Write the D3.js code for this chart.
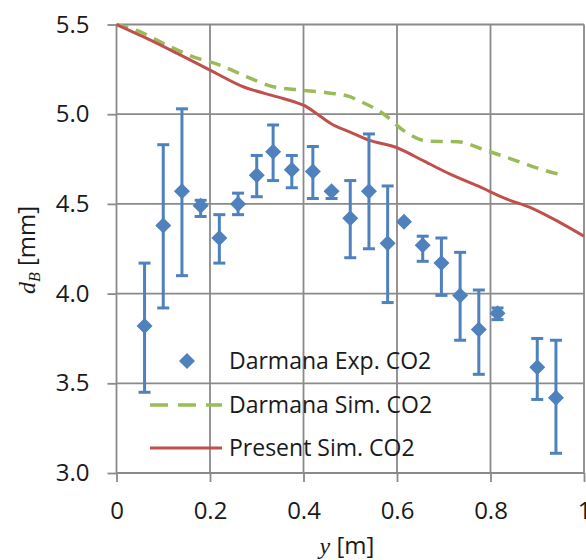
<!DOCTYPE html>
<html>
<head>
<meta charset="utf-8">
<script src="https://cdn.jsdelivr.net/npm/d3@7"></script>
<style>
  body { margin: 0; background: #fff; }
  svg { display: block; font-family: "Open Sans", sans-serif; }
  .grid line { stroke: #8a8a8a; stroke-width: 1.8; }
  .axis .domain { display: none; }
  .axis line { stroke: #8a8a8a; stroke-width: 1.8; }
  .axis text { font-size: 24px; fill: #1a1a1a; font-family: "Open Sans", sans-serif; }
  .legend text { font-size: 23px; fill: #1a1a1a; }
</style>
</head>
<body>
<svg id="chart" width="586" height="560"></svg>
<script>
// x ticks / y ticks
var xTicks = [0, 0.2, 0.4, 0.6, 0.8, 1];
var yTicks = [3.0, 3.5, 4.0, 4.5, 5.0, 5.5];

// Darmana experimental data (diamonds with error bars)
var expY = [0.06, 0.10, 0.14, 0.18, 0.22, 0.26, 0.30, 0.335, 0.375, 0.42, 0.46,
            0.50, 0.54, 0.58, 0.615, 0.655, 0.695, 0.735, 0.775, 0.815, 0.90, 0.94];
var expD = [3.82, 4.38, 4.57, 4.49, 4.31, 4.50, 4.66, 4.79, 4.69, 4.68, 4.57,
            4.42, 4.57, 4.28, 4.40, 4.27, 4.17, 3.99, 3.80, 3.89, 3.59, 3.42];
var expLo = [3.45, 3.92, 4.10, 4.43, 4.17, 4.44, 4.54, 4.63, 4.59, 4.53, 4.53,
             4.20, 4.25, 3.95, 4.40, 4.18, 3.99, 3.74, 3.55, 3.855, 3.41, 3.11];
var expHi = [4.17, 4.83, 5.03, 4.52, 4.44, 4.56, 4.77, 4.94, 4.77, 4.82, 4.57,
             4.63, 4.89, 4.60, 4.40, 4.32, 4.31, 4.23, 4.02, 3.92, 3.75, 3.74];

// Darmana simulation (dashed green)
var darmSimY = [0, 0.05, 0.107, 0.164, 0.221, 0.278, 0.335, 0.392, 0.449, 0.499,
                0.518, 0.572, 0.615, 0.665, 0.73, 0.788, 0.845, 0.903, 0.95];
var darmSimD = [5.5, 5.46, 5.386, 5.32, 5.274, 5.21, 5.153, 5.135, 5.12, 5.098,
                5.076, 5.0, 4.907, 4.85, 4.847, 4.80, 4.75, 4.697, 4.663];

// Present simulation (solid red)
var presSimY = [0, 0.057, 0.129, 0.2, 0.271, 0.342, 0.385, 0.40, 0.43, 0.46,
                0.50, 0.54, 0.60, 0.658, 0.716, 0.773, 0.831, 0.889, 0.946, 1.0];
var presSimD = [5.5, 5.432, 5.34, 5.246, 5.153, 5.098, 5.065, 5.05, 5.0, 4.945,
                4.90, 4.855, 4.813, 4.738, 4.663, 4.60, 4.531, 4.475, 4.40, 4.32];

var legendLabels = ['Darmana Exp. CO2', 'Darmana Sim. CO2', 'Present Sim. CO2'];

(function() {
  var blue = '#4f81bd', red = '#c0504d', green = '#9bbb59';

  var svg = d3.select('#chart');
  var plotL = 116.5, plotR = 584, plotT = 24.5, plotB = 473;

  var x = d3.scaleLinear().domain([0, 1]).range([plotL, plotR]);
  var y = d3.scaleLinear().domain([3, 5.5]).range([plotB, plotT]);

  // grid
  var grid = svg.append('g').attr('class', 'grid');
  grid.selectAll('line.h').data(yTicks).enter().append('line')
    .attr('x1', plotL).attr('x2', plotR)
    .attr('y1', function(d) { return y(d); }).attr('y2', function(d) { return y(d); });
  grid.selectAll('line.v').data(xTicks).enter().append('line')
    .attr('y1', plotT).attr('y2', plotB)
    .attr('x1', function(d) { return x(d); }).attr('x2', function(d) { return x(d); });

  // axes
  svg.append('g').attr('class', 'axis')
    .attr('transform', 'translate(' + plotL + ',0)')
    .call(d3.axisLeft(y).tickValues(yTicks).tickFormat(d3.format('.1f')).tickSize(9).tickPadding(18));

  svg.append('g').attr('class', 'axis')
    .attr('transform', 'translate(0,' + plotB + ')')
    .call(d3.axisBottom(x).tickValues(xTicks).tickFormat(d3.format('')).tickSize(9).tickPadding(20));

  // lines
  var line = d3.line().curve(d3.curveMonotoneX);

  svg.append('path')
    .attr('d', line(darmSimY.map(function(v, i) { return [x(v), y(darmSimD[i])]; })))
    .attr('fill', 'none').attr('stroke', green).attr('stroke-width', 3.5)
    .attr('stroke-dasharray', '12,8');

  svg.append('path')
    .attr('d', line(presSimY.map(function(v, i) { return [x(v), y(presSimD[i])]; })))
    .attr('fill', 'none').attr('stroke', red).attr('stroke-width', 3);

  // error bars
  var exp = expY.map(function(v, i) { return { y: v, d: expD[i], lo: expLo[i], hi: expHi[i] }; });
  var eb = svg.append('g').attr('stroke', blue).attr('stroke-width', 3);
  eb.selectAll('line.bar').data(exp).enter().append('line')
    .attr('x1', function(d) { return x(d.y); }).attr('x2', function(d) { return x(d.y); })
    .attr('y1', function(d) { return y(d.lo); }).attr('y2', function(d) { return y(d.hi); });
  eb.selectAll('line.lo').data(exp).enter().append('line')
    .attr('x1', function(d) { return x(d.y) - 6; }).attr('x2', function(d) { return x(d.y) + 6; })
    .attr('y1', function(d) { return y(d.lo); }).attr('y2', function(d) { return y(d.lo); });
  eb.selectAll('line.hi').data(exp).enter().append('line')
    .attr('x1', function(d) { return x(d.y) - 6; }).attr('x2', function(d) { return x(d.y) + 6; })
    .attr('y1', function(d) { return y(d.hi); }).attr('y2', function(d) { return y(d.hi); });

  var diamond = d3.symbol().type(d3.symbolSquare).size(128);
  svg.append('g').selectAll('path').data(exp).enter().append('path')
    .attr('d', diamond)
    .attr('fill', blue)
    .attr('transform', function(d) { return 'translate(' + x(d.y) + ',' + y(d.d) + ') rotate(45)'; });

  // legend
  var lg = svg.append('g').attr('class', 'legend');
  var rowY = [361, 405, 448];
  lg.append('path').attr('d', diamond).attr('fill', blue)
    .attr('transform', 'translate(187,' + rowY[0] + ') rotate(45)');
  lg.append('line').attr('x1', 150).attr('x2', 222).attr('y1', rowY[1]).attr('y2', rowY[1])
    .attr('stroke', green).attr('stroke-width', 3.5).attr('stroke-dasharray', '18,10');
  lg.append('line').attr('x1', 150).attr('x2', 222).attr('y1', rowY[2]).attr('y2', rowY[2])
    .attr('stroke', red).attr('stroke-width', 3);
  lg.selectAll('text').data(legendLabels).enter().append('text')
    .attr('x', 229).attr('y', function(d, i) { return rowY[i]; })
    .attr('dy', '0.35em')
    .text(function(d) { return d; });

  // axis titles
  var yt = svg.append('text')
    .attr('transform', 'translate(35,250) rotate(-90)')
    .attr('text-anchor', 'middle')
    .style('font-size', '24px').attr('fill', '#1a1a1a');
  yt.append('tspan').style('font-family', '"Liberation Serif", serif').style('font-style', 'italic').text('d');
  yt.append('tspan').style('font-family', '"Liberation Serif", serif').style('font-style', 'italic')
    .style('font-size', '16px').attr('dy', 5).text('B');
  yt.append('tspan').attr('dy', -5).text(' [mm]');

  var xt = svg.append('text')
    .attr('x', 347).attr('y', 554)
    .attr('text-anchor', 'middle')
    .style('font-size', '24px').attr('fill', '#1a1a1a');
  xt.append('tspan').style('font-family', '"Liberation Serif", serif').style('font-style', 'italic').text('y');
  xt.append('tspan').text(' [m]');
})();
</script>
</body>
</html>
